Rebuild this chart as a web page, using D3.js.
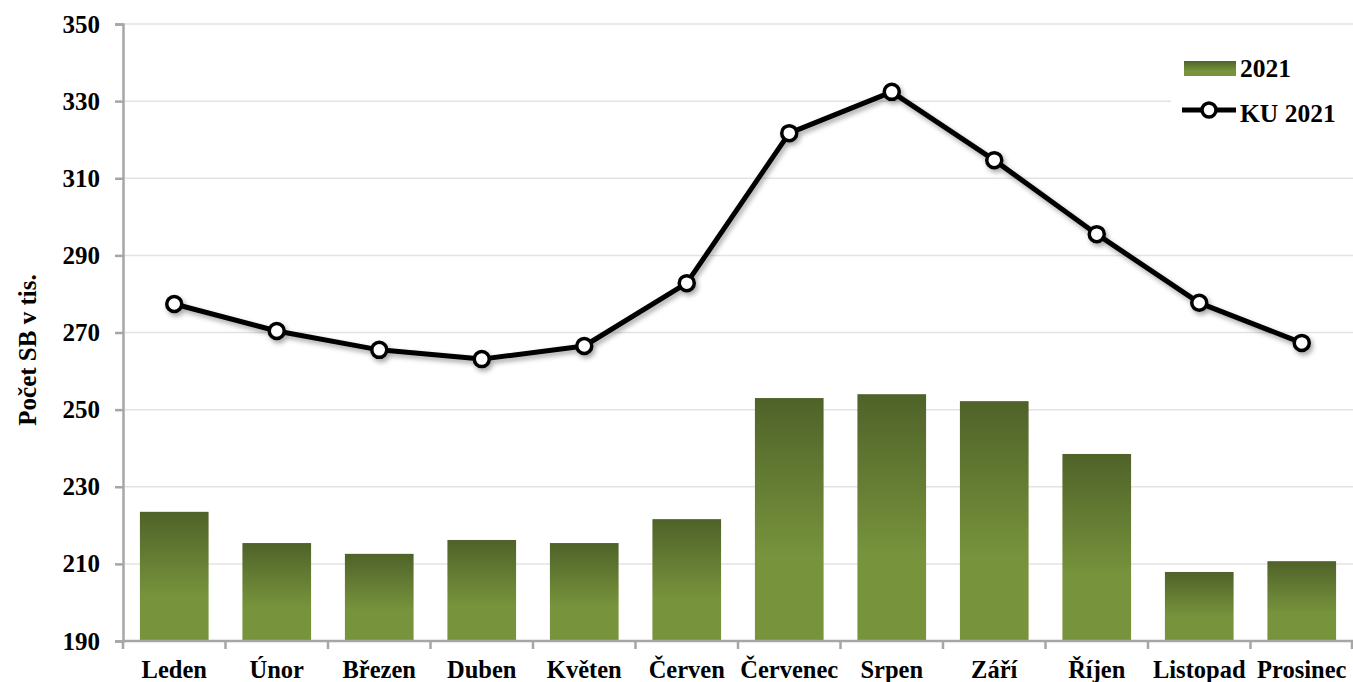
<!DOCTYPE html>
<html>
<head>
<meta charset="utf-8">
<script src="https://cdn.jsdelivr.net/npm/d3@7"></script>
<style>
  body { margin: 0; background: #fff; }
  svg text { font-family: "Liberation Serif", "Times New Roman", serif; font-weight: bold; fill: #000; }
</style>
</head>
<body>
<svg id="chart" width="1353" height="682"></svg>
<script>
var months = ["Leden", "Únor", "Březen", "Duben", "Květen", "Červen", "Červenec", "Srpen", "Září", "Říjen", "Listopad", "Prosinec"];
var bars2021 = [223.5, 215.4, 212.6, 216.2, 215.4, 221.6, 253.0, 254.0, 252.2, 238.5, 207.9, 210.7];
var ku2021 = [277.4, 270.4, 265.5, 263.1, 266.5, 282.8, 321.7, 332.4, 314.7, 295.5, 277.7, 267.3];
var yTicks = [190, 210, 230, 250, 270, 290, 310, 330, 350];

var svg = d3.select("#chart"),
    margin = {top: 24, right: 0, bottom: 41, left: 123},
    width = 1353 - margin.left - margin.right,
    height = 682 - margin.top - margin.bottom;

var defs = svg.append("defs");
var grad = defs.append("linearGradient")
    .attr("id", "barGrad")
    .attr("x1", 0).attr("y1", 0).attr("x2", 0).attr("y2", 1);
grad.append("stop").attr("offset", "0%").attr("stop-color", "#4f6229");
grad.append("stop").attr("offset", "65%").attr("stop-color", "#77933c");
grad.append("stop").attr("offset", "100%").attr("stop-color", "#77933c");

var shadow = defs.append("filter").attr("id", "shadow")
    .attr("x", "-10%").attr("y", "-10%").attr("width", "130%").attr("height", "140%");
shadow.append("feDropShadow")
    .attr("dx", 2).attr("dy", 3).attr("stdDeviation", 2.5)
    .attr("flood-color", "#000").attr("flood-opacity", 0.35);

var g = svg.append("g").attr("transform", "translate(" + margin.left + "," + margin.top + ")");

var x = d3.scaleBand().domain(months).range([0, width]).paddingInner(0.33).paddingOuter(0.165);
var xb = d3.scaleBand().domain(months).range([0, width]);
var y = d3.scaleLinear().domain([190, 350]).range([height, 0]);

// gridlines
g.append("g").selectAll("line")
    .data(yTicks.slice(1))
    .enter().append("line")
    .attr("x1", 0).attr("x2", width)
    .attr("y1", function(d) { return y(d); })
    .attr("y2", function(d) { return y(d); })
    .attr("stroke", "#e3e3e3").attr("stroke-width", 1.5);

// bars
g.append("g").selectAll("rect")
    .data(bars2021)
    .enter().append("rect")
    .attr("x", function(d, i) { return x(months[i]); })
    .attr("width", x.bandwidth())
    .attr("y", function(d) { return y(d); })
    .attr("height", function(d) { return height - y(d); })
    .attr("fill", "url(#barGrad)");

// y axis
var yAxis = g.append("g")
    .call(d3.axisLeft(y).tickValues(yTicks).tickSize(8).tickPadding(15).tickFormat(d3.format("d")));
yAxis.select(".domain").attr("stroke", "#a6a6a6").attr("stroke-width", 2.5);
yAxis.selectAll(".tick line").attr("stroke", "#a6a6a6").attr("stroke-width", 2.5);
yAxis.selectAll("text")
    .attr("font-family", null)
    .style("font-size", "25px")
    .attr("dy", "0.32em");

// x axis
var xAxisG = g.append("g").attr("transform", "translate(0," + height + ")");
xAxisG.append("line")
    .attr("x1", 0).attr("x2", width)
    .attr("stroke", "#a6a6a6").attr("stroke-width", 2.5);
xAxisG.selectAll(".xtick")
    .data(months.concat(["end"]))
    .enter().append("line")
    .attr("x1", function(d, i) { return i < months.length ? xb(d) : width - 1; })
    .attr("x2", function(d, i) { return i < months.length ? xb(d) : width - 1; })
    .attr("y1", 0).attr("y2", 8)
    .attr("stroke", "#a6a6a6").attr("stroke-width", 2.5);
xAxisG.selectAll(".xlabel")
    .data(months)
    .enter().append("text")
    .attr("x", function(d) { return xb(d) + xb.bandwidth() / 2; })
    .attr("y", 37)
    .attr("text-anchor", "middle")
    .style("font-size", "24.5px")
    .text(function(d) { return d; });

// y axis title
svg.append("text")
    .attr("transform", "translate(36,350) rotate(-90)")
    .attr("text-anchor", "middle")
    .style("font-size", "25px")
    .text("Počet SB v tis.");

// line
var line = d3.line()
    .x(function(d, i) { return xb(months[i]) + xb.bandwidth() / 2; })
    .y(function(d) { return y(d); });

var lineG = g.append("g").attr("filter", "url(#shadow)");
lineG.append("path")
    .datum(ku2021)
    .attr("d", line)
    .attr("fill", "none")
    .attr("stroke", "#000")
    .attr("stroke-width", 5)
    .attr("stroke-linejoin", "round");
lineG.selectAll("circle")
    .data(ku2021)
    .enter().append("circle")
    .attr("cx", function(d, i) { return xb(months[i]) + xb.bandwidth() / 2; })
    .attr("cy", function(d) { return y(d); })
    .attr("r", 7.5)
    .attr("fill", "#fff")
    .attr("stroke", "#000")
    .attr("stroke-width", 3.5);

// legend
var legend = svg.append("g").attr("transform", "translate(1171,46)");
legend.append("rect")
    .attr("x", 0).attr("y", 0).attr("width", 182).attr("height", 92)
    .attr("fill", "#fff");
legend.append("rect")
    .attr("x", 13).attr("y", 15).attr("width", 52).attr("height", 15)
    .attr("fill", "url(#barGrad)");
legend.append("text").attr("x", 69).attr("y", 31).style("font-size", "25.5px").text("2021");
legend.append("line")
    .attr("x1", 11).attr("x2", 65).attr("y1", 64).attr("y2", 64)
    .attr("stroke", "#000").attr("stroke-width", 5);
legend.append("circle")
    .attr("cx", 38).attr("cy", 64).attr("r", 7)
    .attr("fill", "#fff").attr("stroke", "#000").attr("stroke-width", 3.5);
legend.append("text").attr("x", 69).attr("y", 76).style("font-size", "25.5px").text("KU 2021");
</script>
</body>
</html>
